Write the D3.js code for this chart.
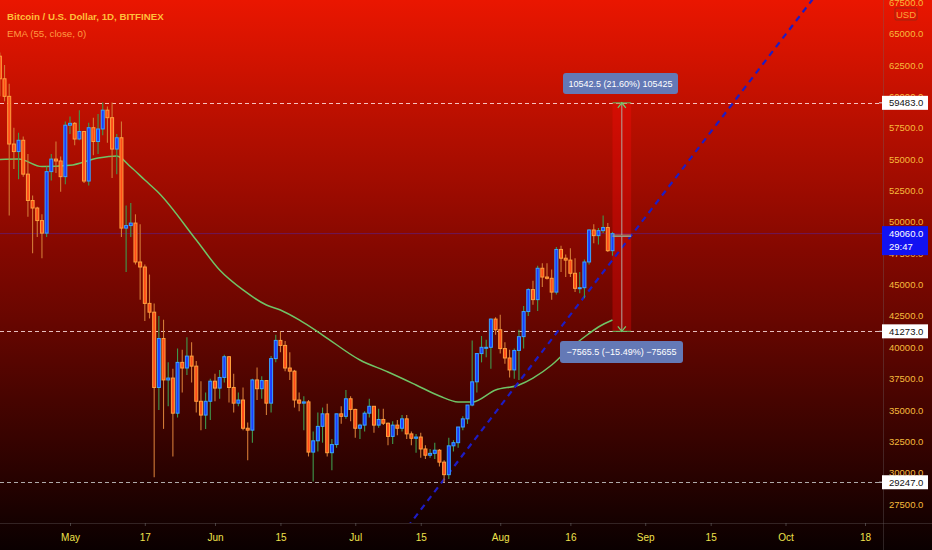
<!DOCTYPE html>
<html><head><meta charset="utf-8">
<script src="https://cdn.jsdelivr.net/npm/d3@7"></script>
<style>html,body{margin:0;padding:0;background:#000}svg{display:block}</style>
</head><body>
<svg id="chart" width="932" height="550"></svg>
<script>
// ---------- DATA (BTC/USD daily, Bitfinex) ----------
const dates = [
"2021-04-15","2021-04-16","2021-04-17","2021-04-18","2021-04-19","2021-04-20","2021-04-21","2021-04-22","2021-04-23","2021-04-24","2021-04-25","2021-04-26","2021-04-27","2021-04-28","2021-04-29","2021-04-30",
"2021-05-01","2021-05-02","2021-05-03","2021-05-04","2021-05-05","2021-05-06","2021-05-07","2021-05-08","2021-05-09","2021-05-10","2021-05-11","2021-05-12","2021-05-13","2021-05-14","2021-05-15","2021-05-16","2021-05-17","2021-05-18","2021-05-19","2021-05-20","2021-05-21","2021-05-22","2021-05-23","2021-05-24","2021-05-25","2021-05-26","2021-05-27","2021-05-28","2021-05-29","2021-05-30","2021-05-31",
"2021-06-01","2021-06-02","2021-06-03","2021-06-04","2021-06-05","2021-06-06","2021-06-07","2021-06-08","2021-06-09","2021-06-10","2021-06-11","2021-06-12","2021-06-13","2021-06-14","2021-06-15","2021-06-16","2021-06-17","2021-06-18","2021-06-19","2021-06-20","2021-06-21","2021-06-22","2021-06-23","2021-06-24","2021-06-25","2021-06-26","2021-06-27","2021-06-28","2021-06-29","2021-06-30",
"2021-07-01","2021-07-02","2021-07-03","2021-07-04","2021-07-05","2021-07-06","2021-07-07","2021-07-08","2021-07-09","2021-07-10","2021-07-11","2021-07-12","2021-07-13","2021-07-14","2021-07-15","2021-07-16","2021-07-17","2021-07-18","2021-07-19","2021-07-20","2021-07-21","2021-07-22","2021-07-23","2021-07-24","2021-07-25","2021-07-26","2021-07-27","2021-07-28","2021-07-29","2021-07-30","2021-07-31",
"2021-08-01","2021-08-02","2021-08-03","2021-08-04","2021-08-05","2021-08-06","2021-08-07","2021-08-08","2021-08-09","2021-08-10","2021-08-11","2021-08-12","2021-08-13","2021-08-14","2021-08-15","2021-08-16","2021-08-17","2021-08-18","2021-08-19","2021-08-20","2021-08-21","2021-08-22","2021-08-23","2021-08-24","2021-08-25"];

const opens = [
63000,63200,61400,60000,56200,55600,56500,53800,51700,51100,50100,49100,54000,55000,54850,53600,
57700,57850,56600,57200,53250,57500,56400,57400,58900,58300,55800,56700,49500,49700,49900,46800,46400,43500,42800,36800,40700,37400,37550,34750,38800,38350,39300,38500,35700,34600,35700,
37300,36750,37600,39250,36800,35550,35800,33550,33400,37400,36700,37350,35550,39100,40550,40150,38350,38100,35800,35550,35650,31650,32550,33700,34700,31600,32250,34700,34500,35900,
35050,33550,33800,34750,35300,33800,34250,33950,32900,33800,33550,34300,33100,32750,32850,31900,31400,31550,31800,30850,29850,32150,32400,33650,34300,35400,37250,39500,40000,40000,42250,
41400,39900,39150,38200,39750,40850,42850,44600,43800,46300,45600,45500,44400,47800,47100,46950,45900,44700,44750,46800,49350,48900,49300,49550,47700];

const highs = [
63800,63500,62500,61000,57500,57100,56800,55400,52100,51200,50600,54400,55400,56400,55200,58000,
58400,57950,58900,57200,57900,58300,58600,59500,59200,59500,57000,58000,51300,51500,50600,49800,46600,45800,43500,42500,42200,38800,38300,39900,39800,40800,40400,38900,37300,36400,37500,
37900,38200,39400,39300,37900,36400,36800,34000,37500,38400,37700,37400,39300,41000,41273,40500,39600,38200,36400,36100,35800,33300,34800,35200,35500,32700,34700,35300,36600,36100,
35100,33900,34900,35900,35300,35100,35100,34000,34100,34200,34600,34600,33300,33100,33200,32200,31900,32400,31900,31000,32800,32600,33600,34500,35400,40550,39500,40900,40600,42300,42400,
42600,40400,39800,39900,41400,43300,44700,45300,46500,46700,46700,46200,48000,48100,47400,47900,47100,46000,47000,49400,49800,49500,50500,49900,49200];

const lows = [
62000,60000,59600,50500,54200,53400,53600,50400,47500,48800,47100,48800,53300,53900,52400,53000,
57000,56100,56500,53100,52900,55300,55400,56900,56300,53500,53800,48800,46000,48800,46600,43800,42100,42300,29650,35000,33500,35300,31300,34400,36400,37800,37200,34800,33400,33500,34200,
35700,35900,37200,35600,34800,35300,33400,31000,32400,35800,35900,34600,34800,38800,39600,38100,37400,35200,34900,33400,31300,29300,31700,32400,31300,30200,32000,33900,34300,34100,
32800,32700,33300,34400,33200,33600,33800,32200,32300,33000,33300,32700,32200,31600,31200,31100,31200,31100,30500,29247,29500,31700,32000,33400,33900,35300,36400,38800,39200,38300,41000,
39500,38700,37600,37500,37400,39900,42500,43400,42900,44800,45400,43800,44200,46000,45600,45600,44400,44300,43900,46600,48300,48200,49100,47600,47300];

const closes = [
63200,61400,60000,56200,55600,56500,53800,51700,51100,50100,49100,54000,55000,54850,53600,57700,
57850,56600,57200,53250,57500,56400,57400,58900,58300,55800,56700,49500,49700,49900,46800,46400,43500,42800,36800,40700,37400,37550,34750,38800,38350,39300,38500,35700,34600,35700,37300,
36750,37600,39250,36800,35550,35800,33550,33400,37400,36700,37350,35550,39100,40550,40150,38350,38100,35800,35550,35650,31650,32550,33700,34700,31600,32250,34700,34500,35900,35050,
33550,33800,34750,35300,33800,34250,33950,32900,33800,33550,34300,33100,32750,32850,31900,31400,31550,31800,30850,29850,32150,32400,33650,34300,35400,37250,39500,40000,40000,42250,41400,
39900,39150,38200,39750,40850,42850,44600,43800,46300,45600,45500,44400,47800,47100,46950,45900,44700,44750,46800,49350,48900,49300,49550,47700,49060];

// EMA(55, close)
const emaDates  = ["2021-04-15","2021-04-20","2021-04-25","2021-05-01","2021-05-07","2021-05-11","2021-05-14","2021-05-17","2021-05-20","2021-05-28","2021-06-02","2021-06-07","2021-06-12","2021-06-15","2021-06-19","2021-06-24","2021-07-02","2021-07-08","2021-07-14","2021-07-19","2021-07-23","2021-07-26","2021-07-31","2021-08-05","2021-08-08","2021-08-12","2021-08-15","2021-08-19","2021-08-22","2021-08-25"];
const emaValues = [54950,55000,54400,54500,55080,55240,54370,53330,52300,48550,46160,44570,43370,42970,42180,40980,38990,38030,37000,36120,35640,35640,36600,37000,37550,38590,39630,40820,41620,42180];

// Horizontal levels and price-range measurements
const levels = [59483, 41273, 29247];
const lastPrice = 49060, countdown = "29:47";
const trendDates = ["2021-07-20","2021-08-22"], trendPrices = [29480, 45500];
const rangeStart = "2021-08-25", rangeEnd = "2021-08-29";
const upBase = 48940.5, upTarget = 59483, upLabel = "10542.5 (21.60%) 105425";
const dnBase = 48838.5, dnTarget = 41273, dnLabel = "\u22127565.5 (\u221215.49%) \u221275655";

const yTicks = [27500,30000,32500,35000,37500,40000,42500,45000,47500,50000,52500,55000,57500,60000,62500,65000,67500];
const xTickDates  = ["2021-05-01","2021-05-17","2021-06-01","2021-06-15","2021-07-01","2021-07-15","2021-08-01","2021-08-16","2021-09-01","2021-09-15","2021-10-01","2021-10-18"];
const xTickLabels = ["May","17","Jun","15","Jul","15","Aug","16","Sep","15","Oct","18"];

// ---------- CHART ----------
const W = 932, H = 550, PR = 883, PB = 523;
const parse = d3.utcParse("%Y-%m-%d");
const svg = d3.select("#chart");
const defs = svg.append("defs");

const grad = defs.append("linearGradient").attr("id","bg").attr("x1",0).attr("y1",0).attr("x2",0).attr("y2",1);
grad.append("stop").attr("offset","0%").attr("stop-color","#ea1600");
grad.append("stop").attr("offset","45%").attr("stop-color","#850800");
grad.append("stop").attr("offset","100%").attr("stop-color","#0a0000");
svg.append("rect").attr("width",W).attr("height",H).attr("fill","url(#bg)");

defs.append("clipPath").attr("id","plot").append("rect").attr("x",0).attr("y",0).attr("width",PR).attr("height",PB);

const x = d3.scaleUtc().domain([parse("2021-05-01"), parse("2021-10-18")]).range([70, 865]);
const y = d3.scaleLinear().domain([30000, 65000]).range([472.8, 33.6]);

const font = "'Liberation Sans', Arial, sans-serif";
const plot = svg.append("g").attr("clip-path","url(#plot)");

// current price line
plot.append("line").attr("x1",0).attr("x2",PR).attr("y1",y(lastPrice)).attr("y2",y(lastPrice))
  .attr("stroke","rgba(70,40,200,0.45)").attr("stroke-width",1);

// horizontal levels
plot.selectAll("line.level").data(levels).join("line").attr("class","level")
  .attr("x1",0).attr("x2",PR).attr("y1",d=>Math.round(y(d))+0.5).attr("y2",d=>Math.round(y(d))+0.5)
  .attr("stroke",(d,i)=> i===2 ? "rgba(200,200,200,0.85)" : "rgba(255,225,225,0.85)")
  .attr("stroke-width",1).attr("stroke-dasharray","4,3");

// measurement rectangles
const rx0 = x(parse(rangeStart)), rx1 = x(parse(rangeEnd)), rxm = (rx0+rx1)/2;
[[upBase, upTarget],[dnBase, dnTarget]].forEach(([b,t])=>{
  plot.append("rect").attr("x",rx0).attr("width",rx1-rx0)
    .attr("y",Math.min(y(b),y(t))).attr("height",Math.abs(y(b)-y(t)))
    .attr("fill","rgba(255,10,10,0.32)");
});

// EMA line
const emaLine = d3.line().x(d=>x(d[0])).y(d=>y(d[1])).curve(d3.curveMonotoneX);
plot.append("path").datum(emaDates.map((d,i)=>[parse(d), emaValues[i]]))
  .attr("d",emaLine).attr("fill","none").attr("stroke","#70c466").attr("stroke-width",1.5);

// trend line (extended through the two anchors)
const t0 = parse(trendDates[0]), t1 = parse(trendDates[1]);
const slope = (trendPrices[1]-trendPrices[0])/(t1-t0);
const tA = parse("2021-07-05"), tB = parse("2021-10-15");
plot.append("line")
  .attr("x1",x(tA)).attr("y1",y(trendPrices[0]+slope*(tA-t0)))
  .attr("x2",x(tB)).attr("y2",y(trendPrices[0]+slope*(tB-t0)))
  .attr("stroke","#1e1cc4").attr("stroke-width",2.2).attr("stroke-dasharray","6,5");

// candles
const idx = d3.range(dates.length);
const bw = 3.0;
const bull = i => closes[i] >= opens[i];
plot.selectAll("line.wick").data(idx).join("line").attr("class","wick")
  .attr("x1",i=>x(parse(dates[i]))).attr("x2",i=>x(parse(dates[i])))
  .attr("y1",i=>y(highs[i])).attr("y2",i=>y(lows[i]))
  .attr("stroke",i=>bull(i)?"#3f9a4c":"#d27a36").attr("stroke-width",1.1);
plot.selectAll("rect.body").data(idx).join("rect").attr("class","body")
  .attr("x",i=>x(parse(dates[i]))-bw/2).attr("width",bw)
  .attr("y",i=>y(Math.max(opens[i],closes[i])))
  .attr("height",i=>Math.max(1,Math.abs(y(opens[i])-y(closes[i]))))
  .attr("fill",i=>bull(i)?"#1c3cff":"#ff4a1a")
  .attr("stroke",i=>bull(i)?"#38a4ff":"#ffa03c").attr("stroke-width",1);

// measurement arrows
function measure(b,t){
  const yb=y(b), yt=y(t), dir = yt<yb ? 1 : -1;
  plot.append("line").attr("x1",rx0).attr("x2",rx1).attr("y1",yb).attr("y2",yb).attr("stroke","#9aa890").attr("stroke-width",1);
  plot.append("line").attr("x1",rx0).attr("x2",rx1).attr("y1",yt).attr("y2",yt).attr("stroke","#5fbf5f").attr("stroke-width",1);
  plot.append("line").attr("x1",rxm).attr("x2",rxm).attr("y1",yb).attr("y2",yt).attr("stroke","#b0a8a0").attr("stroke-width",1);
  plot.append("path").attr("d",`M${rxm-4},${yt+dir*5}L${rxm},${yt}L${rxm+4},${yt+dir*5}`)
    .attr("fill","none").attr("stroke","#6ccf6c").attr("stroke-width",1.2);
}
measure(upBase, upTarget);
measure(dnBase, dnTarget);

function tag(cx, cy, w, h, txt){
  svg.append("rect").attr("x",cx-w/2).attr("y",cy-h/2).attr("width",w).attr("height",h).attr("rx",3)
    .attr("fill","#6479b6");
  svg.append("text").attr("x",cx).attr("y",cy).attr("text-anchor","middle").attr("dominant-baseline","central")
    .attr("font-family",font).attr("font-size",9).attr("fill","#fff").text(txt);
}
tag(620.5, 83.5, 115, 21, upLabel);
tag(621.5, 352, 123, 22, dnLabel);

// legend
svg.append("text").attr("x",7).attr("y",20).attr("font-family",font).attr("font-weight","bold")
  .attr("font-size",9.7).attr("fill","#ffbf3a").text("Bitcoin / U.S. Dollar, 1D, BITFINEX");
svg.append("text").attr("x",7).attr("y",37).attr("font-family",font)
  .attr("font-size",9.7).attr("fill","#ff9a40").text("EMA (55, close, 0)");

// axes separators
svg.append("line").attr("x1",PR+0.5).attr("x2",PR+0.5).attr("y1",0).attr("y2",H).attr("stroke","rgba(110,100,100,0.35)");
svg.append("line").attr("x1",0).attr("x2",W).attr("y1",PB+0.5).attr("y2",PB+0.5).attr("stroke","rgba(110,100,100,0.35)");

// right price axis
const yAxis = d3.axisRight(y).tickValues(yTicks).tickSize(0).tickPadding(6).tickFormat(d=>d3.format(".1f")(d));
const ya = svg.append("g").attr("transform",`translate(${PR},0)`).call(yAxis);
ya.select(".domain").remove();
ya.selectAll("text").attr("font-family",font).attr("font-size",9.5).attr("fill","#f7bb3c");

// USD badge
svg.append("rect").attr("x",895).attr("y",8).attr("width",22).attr("height",12).attr("fill","none")
  .attr("stroke","rgba(150,40,20,0.9)").attr("rx",1);
svg.append("text").attr("x",906).attr("y",14.5).attr("text-anchor","middle").attr("dominant-baseline","central")
  .attr("font-family",font).attr("font-size",9.5).attr("fill","#f7a83c").text("USD");

// bottom time axis
const xAxis = d3.axisBottom(x).tickValues(xTickDates.map(parse)).tickSize(3).tickPadding(8)
  .tickFormat((d,i)=>xTickLabels[i]);
const xa = svg.append("g").attr("transform",`translate(0,${PB})`).call(xAxis);
xa.select(".domain").remove();
xa.selectAll("line").attr("stroke","rgba(120,120,120,0.5)");
xa.selectAll("text").attr("font-family",font).attr("font-size",10).attr("fill","#efe24c");

// price tags on the axis
levels.forEach(v=>{
  const cy = y(v);
  svg.append("line").attr("x1",PR-4).attr("x2",PR).attr("y1",cy).attr("y2",cy).attr("stroke","#ddd");
  svg.append("rect").attr("x",PR-1).attr("y",cy-7).attr("width",46).attr("height",14).attr("fill","#fff");
  svg.append("text").attr("x",PR+6).attr("y",cy).attr("dominant-baseline","central")
    .attr("font-family",font).attr("font-size",9.5).attr("fill","#111").text(d3.format(".1f")(v));
});
{
  const cy = y(lastPrice);
  svg.append("rect").attr("x",PR-1).attr("y",cy-7.5).attr("width",46).attr("height",29).attr("fill","#1212f2");
  svg.append("text").attr("x",PR+6).attr("y",cy).attr("dominant-baseline","central")
    .attr("font-family",font).attr("font-size",9.5).attr("fill","#fff").text(d3.format(".1f")(lastPrice));
  svg.append("text").attr("x",PR+6).attr("y",cy+13).attr("dominant-baseline","central")
    .attr("font-family",font).attr("font-size",9.5).attr("fill","#fff").text(countdown);
}
</script>
</body></html>
